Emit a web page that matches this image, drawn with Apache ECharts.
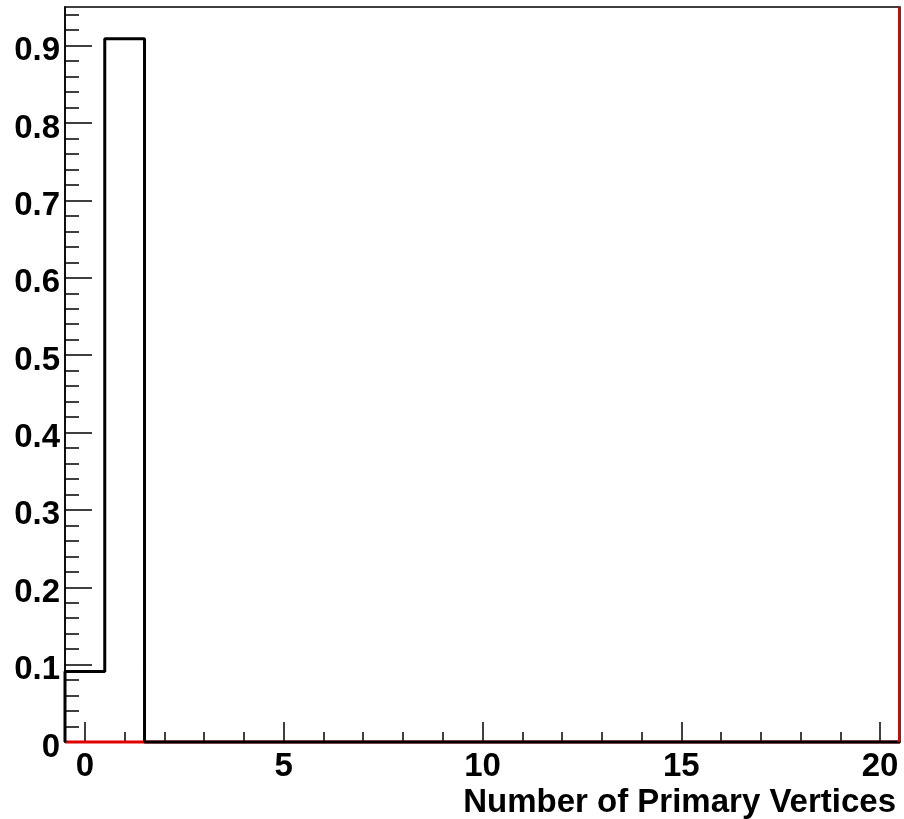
<!DOCTYPE html>
<html>
<head>
<meta charset="utf-8">
<script src="https://cdn.jsdelivr.net/npm/echarts@6/dist/echarts.min.js"></script>
<style>
  html, body { margin: 0; padding: 0; background: #fff; }
  #chart { width: 904px; height: 819px; }
</style>
</head>
<body>
<div id="chart"></div>
<script>
// Histogram binning: 21 unit-wide bins centred on 0..20
const binLow = -0.5;
const binWidth = 1;
const nBins = 21;

// Fraction of events per number of primary vertices (bins 0..20)
const fractionData = [0.091, 0.909, 0, 0, 0, 0, 0, 0, 0, 0, 0, 0, 0, 0, 0, 0, 0, 0, 0, 0, 0];
// Second (red) histogram, empty over the whole range
const refData = [0, 0, 0, 0, 0, 0, 0, 0, 0, 0, 0, 0, 0, 0, 0, 0, 0, 0, 0, 0, 0];

const xMajorTicks = [0, 5, 10, 15, 20];
const xMinorTicks = [0, 1, 2, 3, 4, 5, 6, 7, 8, 9, 10, 11, 12, 13, 14, 15, 16, 17, 18, 19, 20];
const yMajorTicks = [0, 0.1, 0.2, 0.3, 0.4, 0.5, 0.6, 0.7, 0.8, 0.9];
const yMinorTicks = [0, 0.02, 0.04, 0.06, 0.08, 0.1, 0.12, 0.14, 0.16, 0.18, 0.2, 0.22, 0.24, 0.26, 0.28, 0.3,
  0.32, 0.34, 0.36, 0.38, 0.4, 0.42, 0.44, 0.46, 0.48, 0.5, 0.52, 0.54, 0.56, 0.58, 0.6, 0.62, 0.64, 0.66,
  0.68, 0.7, 0.72, 0.74, 0.76, 0.78, 0.8, 0.82, 0.84, 0.86, 0.88, 0.9, 0.92, 0.94];

const xTitle = 'Number of Primary Vertices';
const xMax = binLow + nBins * binWidth;
const yMax = 0.95;

// Turn bin contents into step-line vertices on the bin edges
function histPoints(values) {
  const pts = [[binLow, 0]];
  values.forEach((v, i) => pts.push([binLow + i * binWidth, v]));
  pts.push([xMax, 0]);
  return pts;
}

const font = 'Liberation Sans, Arial, Helvetica, sans-serif';

const chart = echarts.init(document.getElementById('chart'), null, { renderer: 'canvas' });

chart.setOption({
  animation: false,
  backgroundColor: '#ffffff',
  grid: {
    left: 65, right: 4, top: 7, bottom: 77,
    show: true, borderColor: '#000', borderWidth: 1.5, backgroundColor: 'transparent'
  },
  xAxis: [
    {
      type: 'value', min: binLow, max: xMax,
      axisLine: { show: true, onZero: false, lineStyle: { color: '#000', width: 1.5 } },
      axisTick: { show: true, inside: true, length: 20, customValues: xMajorTicks,
        lineStyle: { color: '#000', width: 1.5 } },
      axisLabel: { show: true, customValues: xMajorTicks, margin: 8,
        color: '#000', fontFamily: font, fontWeight: 'bold', fontSize: 33 },
      splitLine: { show: false },
      name: xTitle, nameLocation: 'end', nameGap: 0,
      nameTextStyle: { color: '#000', fontFamily: font, fontWeight: 'bold', fontSize: 33,
        align: 'right', verticalAlign: 'top', padding: [44, 4, 0, 0] }
    },
    {
      type: 'value', min: binLow, max: xMax, position: 'bottom',
      axisLine: { show: false, onZero: false },
      axisTick: { show: true, inside: true, length: 10, customValues: xMinorTicks,
        lineStyle: { color: '#000', width: 1.5 } },
      axisLabel: { show: false },
      splitLine: { show: false }
    }
  ],
  yAxis: [
    {
      type: 'value', min: 0, max: yMax,
      axisLine: { show: true, onZero: false, lineStyle: { color: '#000', width: 1.5 } },
      axisTick: { show: true, inside: true, length: 27, customValues: yMajorTicks,
        lineStyle: { color: '#000', width: 1.5 } },
      axisLabel: { show: true, customValues: yMajorTicks, margin: 5,
        color: '#000', fontFamily: font, fontWeight: 'bold', fontSize: 33,
        formatter: v => '{t|' + (v === 0 ? '0' : v.toFixed(1)) + '}',
        rich: { t: { color: '#000', fontFamily: font, fontWeight: 'bold', fontSize: 33,
          padding: [11, 0, 0, 0] } } },
      splitLine: { show: false }
    },
    {
      type: 'value', min: 0, max: yMax, position: 'left',
      axisLine: { show: false, onZero: false },
      axisTick: { show: true, inside: true, length: 14, customValues: yMinorTicks,
        lineStyle: { color: '#000', width: 1.5 } },
      axisLabel: { show: false },
      splitLine: { show: false }
    }
  ],
  series: [
    {
      name: 'reference',
      type: 'line', step: 'end', xAxisIndex: 0, yAxisIndex: 0,
      data: histPoints(refData),
      showSymbol: false, clip: false, z: 2,
      lineStyle: { color: '#e00000', width: 3 },
      markLine: {
        silent: true, symbol: 'none', label: { show: false },
        lineStyle: { color: '#e00000', width: 2, type: 'solid' },
        data: [{ xAxis: xMax - 0.04 }]
      }
    },
    {
      name: 'fraction',
      type: 'line', step: 'end', xAxisIndex: 0, yAxisIndex: 0,
      data: histPoints(fractionData),
      showSymbol: false, clip: false, z: 3,
      lineStyle: { color: '#000', width: 3 }
    }
  ]
});
</script>
</body>
</html>
